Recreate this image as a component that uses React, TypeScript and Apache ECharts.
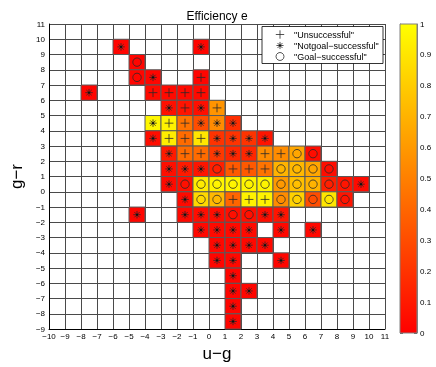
import React, { useEffect, useRef } from 'react';
import * as echarts from 'echarts';

const FONT = '"Liberation Sans", Arial, Helvetica, sans-serif';

// axis ranges
const uRange = [-10, 11];
const gRange = [-9, 11];
const colorbarRange = [0, 1];
const colorScale = ['#ff0000', '#ffff00'];

// outcome kinds: U = Unsuccessful (+), N = Notgoal-successful (*), G = Goal-successful (o)
const kindCodes = ['U', 'N', 'G'];
const legendLabels = ['"Unsuccessful"', '"Notgoal\u2212successful"', '"Goal\u2212successful"'];

// rows of cells (g-r lower edge), u-g lower edges, efficiency values, and outcome kinds
const rowG = [9, 8, 7, 6, 5, 4, 3, 2, 1, 0, -1, -2, -3, -4, -5, -6, -7, -8, -9];
const rowU = [
  [-6, -1],
  [-5],
  [-5, -4, -1],
  [-8, -4, -3, -2, -1],
  [-3, -2, -1, 0],
  [-4, -3, -2, -1, 0, 1],
  [-4, -3, -2, -1, 0, 1, 2, 3],
  [-3, -2, -1, 0, 1, 2, 3, 4, 5, 6],
  [-3, -2, -1, 0, 1, 2, 3, 4, 5, 6, 7],
  [-3, -2, -1, 0, 1, 2, 3, 4, 5, 6, 7, 8, 9],
  [-2, -1, 0, 1, 2, 3, 4, 5, 6, 7, 8],
  [-5, -2, -1, 0, 1, 2, 3, 4],
  [-1, 0, 1, 2, 4, 6],
  [0, 1, 2, 3],
  [0, 1, 4],
  [1],
  [1, 2],
  [1],
  [1],
];
const rowE = [
  [0.02, 0.02],
  [0.02],
  [0.02, 0.02, 0.02],
  [0.02, 0.04, 0.04, 0.04, 0.04],
  [0.06, 0.08, 0.06, 0.58],
  [0.97, 0.95, 0.45, 0.3, 0.55, 0.18],
  [0.05, 0.93, 0.42, 0.9, 0.2, 0.2, 0.2, 0.08],
  [0.1, 0.42, 0.42, 0.22, 0.15, 0.15, 0.55, 0.55, 0.65, 0.05],
  [0.06, 0.1, 0.08, 0.12, 0.35, 0.35, 0.45, 0.7, 0.72, 0.65, 0.05],
  [0.04, 0.06, 0.92, 0.96, 0.96, 0.96, 0.96, 0.6, 0.75, 0.7, 0.12, 0.08, 0.04],
  [0.04, 0.85, 0.72, 0.4, 0.95, 0.95, 0.55, 0.82, 0.3, 0.9, 0.08],
  [0.02, 0.03, 0.05, 0.05, 0.06, 0.06, 0.05, 0.08],
  [0.03, 0.04, 0.04, 0.04, 0.03, 0.03],
  [0.03, 0.03, 0.03, 0.03],
  [0.02, 0.03, 0.02],
  [0.02],
  [0.02, 0.02],
  [0.02],
  [0.02],
];
const rowKind = [
  'NN',
  'G',
  'GNU',
  'NUUUU',
  'NUNU',
  'NUUNNN',
  'NUUUNNNN',
  'NUUNNNUUGG',
  'NNNGUUUGGGG',
  'NGGGGGGGGGGGN',
  'NGGUUUGGGGG',
  'NNNNGGNN',
  'NNNNNN',
  'NNNN',
  'NNN',
  'N',
  'NN',
  'N',
  'N',
];

const MARK = '#2a2a2a';

function markerShapes(kind: string, cx: number, cy: number, r: number, z?: number) {
  const st = { stroke: MARK, lineWidth: 0.8, fill: 'none' };
  const line = (x1: number, y1: number, x2: number, y2: number) => ({
    type: 'line',
    z,
    shape: { x1, y1, x2, y2 },
    style: st,
  });
  if (kind === 'U') {
    return [line(cx - r, cy, cx + r, cy), line(cx, cy - r, cx, cy + r)];
  }
  if (kind === 'N') {
    const d = r * 0.85;
    const q = d / Math.SQRT2;
    return [
      line(cx - d, cy, cx + d, cy),
      line(cx, cy - d, cx, cy + d),
      line(cx - q, cy - q, cx + q, cy + q),
      line(cx - q, cy + q, cx + q, cy - q),
      { type: 'circle', z, shape: { cx, cy, r: 1.1 }, style: { fill: '#111' } },
    ];
  }
  return [{ type: 'circle', z, shape: { cx, cy, r: r * 0.95 }, style: { fill: 'none', stroke: MARK, lineWidth: 0.8 } }];
}

function buildCells() {
  const out: number[][] = [];
  rowG.forEach((g, i) => {
    rowU[i].forEach((u, j) => {
      out.push([u, g, rowE[i][j], kindCodes.indexOf(rowKind[i][j])]);
    });
  });
  return out;
}

const minus = (v: number | string) => String(v).replace('-', '\u2212');

export default function App() {
  const ref = useRef<HTMLDivElement>(null);
  useEffect(() => {
    const chart = echarts.init(ref.current!, null, { renderer: 'svg' });
    const cells = buildCells();

    const legendEls: any[] = [
      {
        type: 'rect',
        z: 100,
        shape: { x: 262, y: 26.5, width: 121, height: 37 },
        style: { fill: '#fff', stroke: '#000', lineWidth: 0.8 },
      },
    ];
    kindCodes.forEach((k, i) => {
      const y = 34.5 + i * 11;
      legendEls.push(...markerShapes(k, 280, y, 4.2, 101));
      legendEls.push({
        type: 'text',
        z: 101,
        x: 294,
        y,
        style: {
          text: legendLabels[i],
          fontSize: 9,
          fontFamily: FONT,
          fill: '#000',
          verticalAlign: 'middle',
          align: 'left',
        },
      });
    });

    const option: any = {
      animation: false,
      textStyle: { fontFamily: FONT },
      title: {
        text: 'Efficiency e',
        left: 212,
        top: 5,
        textAlign: 'center',
        textStyle: { fontSize: 12, fontWeight: 'normal', color: '#000', fontFamily: FONT },
      },
      grid: [
        { left: 39, top: 24, width: 346, height: 309 },
        { left: 400, top: 24, width: 17, height: 309 },
      ],
      xAxis: [
        {
          type: 'value',
          gridIndex: 0,
          min: uRange[0],
          max: uRange[1],
          interval: 1,
          name: 'u\u2212g',
          nameLocation: 'middle',
          nameGap: 9,
          nameTextStyle: { fontSize: 17, color: '#000', fontFamily: FONT },
          axisLine: { show: true, onZero: false, lineStyle: { color: '#000', width: 1 } },
          axisTick: { show: false },
          axisLabel: { fontSize: 8, color: '#000', margin: 3, formatter: minus, fontFamily: FONT },
          splitLine: { show: true, lineStyle: { color: '#4a4a4a', width: 1 } },
        },
        { type: 'value', gridIndex: 1, min: colorbarRange[0], max: colorbarRange[1], show: false },
      ],
      yAxis: [
        {
          type: 'value',
          gridIndex: 0,
          min: gRange[0],
          max: gRange[1],
          interval: 1,
          name: 'g\u2212r',
          nameLocation: 'middle',
          nameGap: 14,
          nameTextStyle: { fontSize: 17, color: '#000', fontFamily: FONT },
          axisLine: { show: true, onZero: false, lineStyle: { color: '#000', width: 1 } },
          axisTick: { show: false },
          axisLabel: { fontSize: 8, color: '#000', margin: 4, formatter: minus, fontFamily: FONT },
          splitLine: { show: true, lineStyle: { color: '#4a4a4a', width: 1 } },
        },
        {
          type: 'value',
          gridIndex: 1,
          min: colorbarRange[0],
          max: colorbarRange[1],
          interval: 0.1,
          position: 'right',
          axisLine: { show: true, onZero: false, lineStyle: { color: '#808080', width: 1 } },
          axisTick: { show: true, inside: true, length: 3, lineStyle: { color: '#606060' } },
          axisLabel: {
            fontSize: 8,
            color: '#000',
            margin: 3,
            fontFamily: FONT,
            formatter: (v: number) => String(Math.round(v * 10) / 10),
          },
          splitLine: { show: false },
        },
        {
          type: 'value',
          gridIndex: 1,
          min: colorbarRange[0],
          max: colorbarRange[1],
          interval: 0.1,
          position: 'left',
          axisLine: { show: true, onZero: false, lineStyle: { color: '#808080', width: 1 } },
          axisTick: { show: true, inside: true, length: 3, lineStyle: { color: '#606060' } },
          axisLabel: { show: false },
          splitLine: { show: false },
        },
      ],
      visualMap: [
        {
          type: 'continuous',
          show: false,
          min: colorbarRange[0],
          max: colorbarRange[1],
          dimension: 2,
          seriesIndex: 0,
          inRange: { color: colorScale },
        },
      ],
      series: [
        {
          type: 'custom',
          xAxisIndex: 0,
          yAxisIndex: 0,
          data: cells,
          encode: { x: 0, y: 1 },
          z: 3,
          renderItem: (params: any, api: any) => {
            const u = api.value(0);
            const g = api.value(1);
            const k = kindCodes[api.value(3)];
            const tl = api.coord([u, g + 1]);
            const br = api.coord([u + 1, g]);
            const w = br[0] - tl[0];
            const h = br[1] - tl[1];
            const cx = tl[0] + w / 2;
            const cy = tl[1] + h / 2;
            return {
              type: 'group',
              children: [
                {
                  type: 'rect',
                  shape: { x: tl[0], y: tl[1], width: w, height: h },
                  style: { fill: api.visual('color'), stroke: '#5a5a5a', lineWidth: 1 },
                },
                ...markerShapes(k, cx, cy, 4.4),
              ],
            };
          },
        },
        {
          type: 'custom',
          xAxisIndex: 1,
          yAxisIndex: 1,
          silent: true,
          data: [[colorbarRange[0], colorbarRange[1]]],
          renderItem: (params: any, api: any) => {
            const lo = api.value(0);
            const hi = api.value(1);
            const p0 = api.coord([0, lo]);
            const p1 = api.coord([1, hi]);
            return {
              type: 'rect',
              shape: { x: p0[0], y: p1[1], width: p1[0] - p0[0], height: p0[1] - p1[1] },
              style: {
                fill: new echarts.graphic.LinearGradient(0, 1, 0, 0, [
                  { offset: 0, color: colorScale[0] },
                  { offset: 1, color: colorScale[1] },
                ]),
                stroke: '#808080',
                lineWidth: 1,
              },
            };
          },
        },
      ],
      graphic: legendEls,
    };
    chart.setOption(option);
    return () => chart.dispose();
  }, []);
  return <div ref={ref} style={{ position: 'fixed', left: 0, top: 0, width: 436, height: 367 }} />;
}
